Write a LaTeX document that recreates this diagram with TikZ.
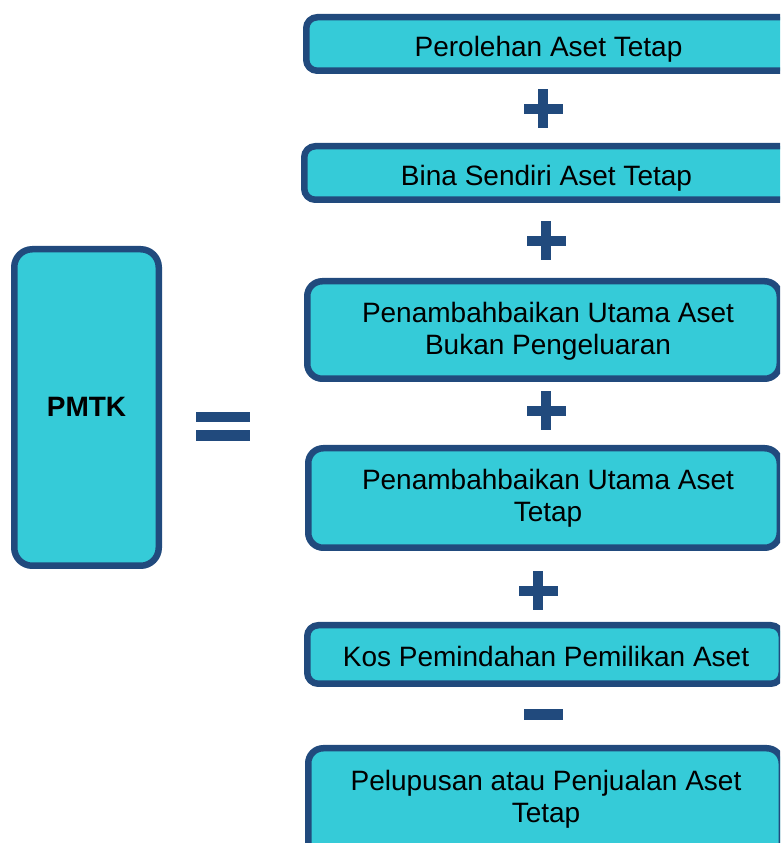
\documentclass[tikz,border=0pt]{standalone}
\usepackage{fontspec}
\setmainfont{Liberation Sans}
\definecolor{fillc}{RGB}{53,203,216}
\definecolor{edgec}{RGB}{33,74,125}
\begin{document}
\begin{tikzpicture}[x=1pt,y=1pt,
  box/.style={draw=edgec, fill=fillc, line width=6.5pt, rounded corners=#1, inner sep=0pt},
  box/.default=11pt,
  lbl/.style={anchor=base, align=center, inner sep=0pt, font=\fontsize{28}{32}\selectfont},
  opbar/.style={fill=edgec},
  plussign/.pic={\fill[opbar] (-19.5,-5) rectangle (19.5,5); \fill[opbar] (-5,-19.5) rectangle (5,19.5);}]
\clip (0,0) rectangle (780,843);
% left box
\node[box=18pt, minimum width=144.5pt, minimum height=316.5pt] (pmtk) at (86.5,435.5) {};
\node[lbl, font=\fontsize{28}{32}\selectfont\bfseries] (tpmtk) at (86.5,426) {PMTK};
% equals
\fill[opbar] (196,421) rectangle (250,431);
\fill[opbar] (196,402) rectangle (250,413);
% right boxes
\node[box, minimum width=485.5pt, minimum height=53.5pt] (b1) at (549,799) {};
\node[box, minimum width=487.5pt, minimum height=53.5pt] (b2) at (548,670) {};
\node[box=15pt, minimum width=472.5pt, minimum height=97.5pt] (b3) at (543.5,513) {};
\node[box=15pt, minimum width=471.5pt, minimum height=99.5pt] (b4) at (544,345) {};
\node[box, minimum width=474.5pt, minimum height=58.5pt] (b5) at (544.5,188.5) {};
\node[box=15pt, minimum width=473.5pt, minimum height=118.5pt] (b6) at (545,35.5) {};
% texts (multi-line: base anchor is the last line's baseline)
\node[lbl] (t1) at (548.5,786) {Perolehan Aset Tetap};
\node[lbl] (t2) at (546.5,657) {Bina Sendiri Aset Tetap};
\node[lbl] (t3) at (548,488) {Penambahbaikan Utama Aset\\Bukan Pengeluaran};
\node[lbl] (t4) at (548,321) {Penambahbaikan Utama Aset\\Tetap};
\node[lbl] (t5) at (546,176) {Kos Pemindahan Pemilikan Aset};
\node[lbl] (t6) at (546,20.7) {Pelupusan atau Penjualan Aset\\Tetap};
% operators
\pic at (543,734) {plussign};
\pic at (546,602) {plussign};
\pic at (546,432) {plussign};
\pic at (538,252) {plussign};
\fill[opbar] (524,123) rectangle (563,134);
\end{tikzpicture}
\end{document}
